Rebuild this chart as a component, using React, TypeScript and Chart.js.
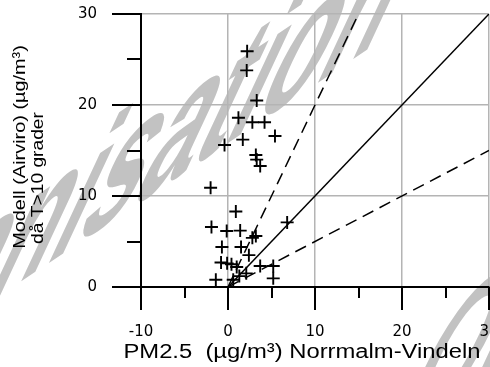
import React, { useEffect, useRef } from 'react';
import { Chart, registerables } from 'chart.js';

Chart.register(...registerables);

// Measured PM2.5 (x) and modelled (y) values
const measuredX = [2.2, 2.15, 3.3, 1.2, 2.8, 4.2, 5.4, 1.7, -0.4, 3.2, 3.3, 3.7, -2.0, 0.9, -1.9, -0.15, 1.4, 2.8, 3.2, 6.8, -0.7, 1.5, 2.4, -0.8, -0.1, 0.4, 1.0, 3.7, 5.2, 1.3, 2.1, 5.2, -1.4, 0.6];
const modelY = [25.9, 23.8, 20.5, 18.6, 18.1, 18.1, 16.6, 16.2, 15.6, 14.5, 14.0, 13.3, 10.9, 8.3, 6.6, 6.15, 6.2, 5.4, 5.6, 7.1, 4.4, 4.4, 3.5, 2.7, 2.6, 2.5, 2.2, 2.3, 2.3, 1.2, 1.5, 0.95, 0.8, 0.8];

// Reference lines: 1:1, 2:1, 1:2
const oneToOneX = [0, 30];
const oneToOneY = [0, 30];
const doubleX = [0, 15];
const doubleY = [0, 30];
const halfX = [0, 30];
const halfY = [0, 15];

const xMajorTicks = [-10, 0, 10, 20, 30];
const xMinorTicks = [-5, 5, 15, 25];
const yMajorTicks = [0, 10, 20, 30];
const yMinorTicks = [5, 15, 25];

const xTitle = 'PM2.5  (µg/m³) Norrmalm-Vindeln';
const yTitle1 = 'Modell (Airviro) (µg/m³)';
const yTitle2 = 'då T>10 grader';
const watermark = 'Organisation';

const toPts = (xs: number[], ys: number[]) => xs.map((x, i) => ({ x, y: ys[i] }));

const zeroPad = (s: any) => {
  s.paddingLeft = 0;
  s.paddingRight = 0;
  s.paddingTop = 0;
  s.paddingBottom = 0;
};

const decorPlugin = {
  id: 'decor',
  beforeDraw(chart: any) {
    const ctx = chart.ctx as CanvasRenderingContext2D;
    ctx.save();
    ctx.fillStyle = '#c2c2c2';
    ctx.font = 'bold 100px "Liberation Sans", Arial, sans-serif';
    ctx.textBaseline = 'alphabetic';
    ctx.textAlign = 'left';
    ctx.setTransform(1.03, -0.69, -0.97, 2.08, -21.6, 310.1);
    ctx.fillText(watermark, -233, 0);
    ctx.fillText(watermark, 664, 286);
    ctx.restore();
  },
  afterDraw(chart: any) {
    const ctx = chart.ctx as CanvasRenderingContext2D;
    const xs = chart.scales.x;
    const ys = chart.scales.y;
    const area = chart.chartArea;
    ctx.save();
    ctx.strokeStyle = '#000';
    ctx.lineWidth = 2;
    ctx.lineCap = 'butt';
    ctx.beginPath();
    xMajorTicks.forEach((v) => {
      const px = Math.round(xs.getPixelForValue(v));
      ctx.moveTo(px, area.bottom);
      ctx.lineTo(px, area.bottom + 23);
    });
    xMinorTicks.forEach((v) => {
      const px = Math.round(xs.getPixelForValue(v));
      ctx.moveTo(px, area.bottom);
      ctx.lineTo(px, area.bottom + 11);
    });
    yMajorTicks.forEach((v) => {
      const py = Math.round(ys.getPixelForValue(v));
      ctx.moveTo(area.left, py);
      ctx.lineTo(area.left - 29, py);
    });
    yMinorTicks.forEach((v) => {
      const py = Math.round(ys.getPixelForValue(v));
      ctx.moveTo(area.left, py);
      ctx.lineTo(area.left - 14, py);
    });
    ctx.stroke();

    ctx.fillStyle = '#000';
    ctx.textBaseline = 'middle';
    ctx.textAlign = 'center';
    // x title
    ctx.save();
    ctx.translate(302, 352);
    ctx.scale(1.19, 1);
    ctx.font = '20px "Liberation Sans", Arial, sans-serif';
    ctx.fillText(xTitle, 0, 0);
    ctx.restore();
    // y titles
    ctx.save();
    ctx.translate(20, 147);
    ctx.rotate(-Math.PI / 2);
    ctx.scale(1.17, 1);
    ctx.font = '17px "Liberation Sans", Arial, sans-serif';
    ctx.fillText(yTitle1, 0, 0);
    ctx.restore();
    ctx.save();
    ctx.translate(38, 178);
    ctx.rotate(-Math.PI / 2);
    ctx.scale(1.13, 1);
    ctx.font = '17px "Liberation Sans", Arial, sans-serif';
    ctx.fillText(yTitle2, 0, 0);
    ctx.restore();
    ctx.restore();
  },
};

export default function App() {
  const ref = useRef<HTMLCanvasElement | null>(null);
  useEffect(() => {
    if (!ref.current) return;
    const gridColor = '#b4b4b4';
    const chart = new Chart(ref.current, {
      type: 'scatter',
      data: {
        datasets: [
          {
            label: 'Mätvärden',
            data: toPts(measuredX, modelY),
            pointStyle: 'cross',
            pointRadius: 6.5,
            pointBorderWidth: 1.9,
            borderColor: '#000',
            backgroundColor: '#000',
            showLine: false,
          },
          {
            label: '1:1',
            data: toPts(oneToOneX, oneToOneY),
            type: 'line',
            showLine: true,
            borderColor: '#000',
            borderWidth: 1.5,
            pointRadius: 0,
            fill: false,
          },
          {
            label: '2:1',
            data: toPts(doubleX, doubleY),
            type: 'line',
            showLine: true,
            borderColor: '#000',
            borderWidth: 1.5,
            borderDash: [12, 7],
            pointRadius: 0,
            fill: false,
          },
          {
            label: '1:2',
            data: toPts(halfX, halfY),
            type: 'line',
            showLine: true,
            borderColor: '#000',
            borderWidth: 1.5,
            borderDash: [12, 7],
            pointRadius: 0,
            fill: false,
          },
        ],
      },
      options: {
        animation: false,
        responsive: false,
        devicePixelRatio: 1,
        layout: { autoPadding: false, padding: { top: 14, right: 1, left: 0, bottom: 0 } },
        plugins: { legend: { display: false }, tooltip: { enabled: false }, title: { display: false } },
        scales: {
          x: {
            type: 'linear',
            min: -10,
            max: 30,
            afterFit: (s: any) => { s.height = 80; zeroPad(s); },
            ticks: {
              stepSize: 10,
              padding: 36,
              color: '#000',
              font: { family: '"DejaVu Sans", sans-serif', size: 15 },
            },
            grid: {
              color: (c: any) => (c.tick && c.tick.value === -10 ? 'rgba(0,0,0,0)' : gridColor),
              lineWidth: 1.5,
              drawTicks: false,
            },
            border: { display: true, color: '#000', width: 2 },
          },
          y: {
            type: 'linear',
            min: 0,
            max: 30,
            afterFit: (s: any) => { s.width = 141; zeroPad(s); },
            ticks: {
              stepSize: 10,
              padding: 44,
              color: '#000',
              font: { family: '"DejaVu Sans", sans-serif', size: 15 },
            },
            grid: {
              color: (c: any) => (c.tick && c.tick.value === 0 ? 'rgba(0,0,0,0)' : gridColor),
              lineWidth: 1.5,
              drawTicks: false,
            },
            border: { display: true, color: '#000', width: 2 },
          },
        },
      },
      plugins: [decorPlugin],
    } as any);
    return () => chart.destroy();
  }, []);
  return (
    <div style={{ position: 'fixed', left: 0, top: 0, width: 490, height: 367, background: '#fff' }}>
      <canvas ref={ref} width={490} height={367} style={{ display: 'block' }} />
    </div>
  );
}
